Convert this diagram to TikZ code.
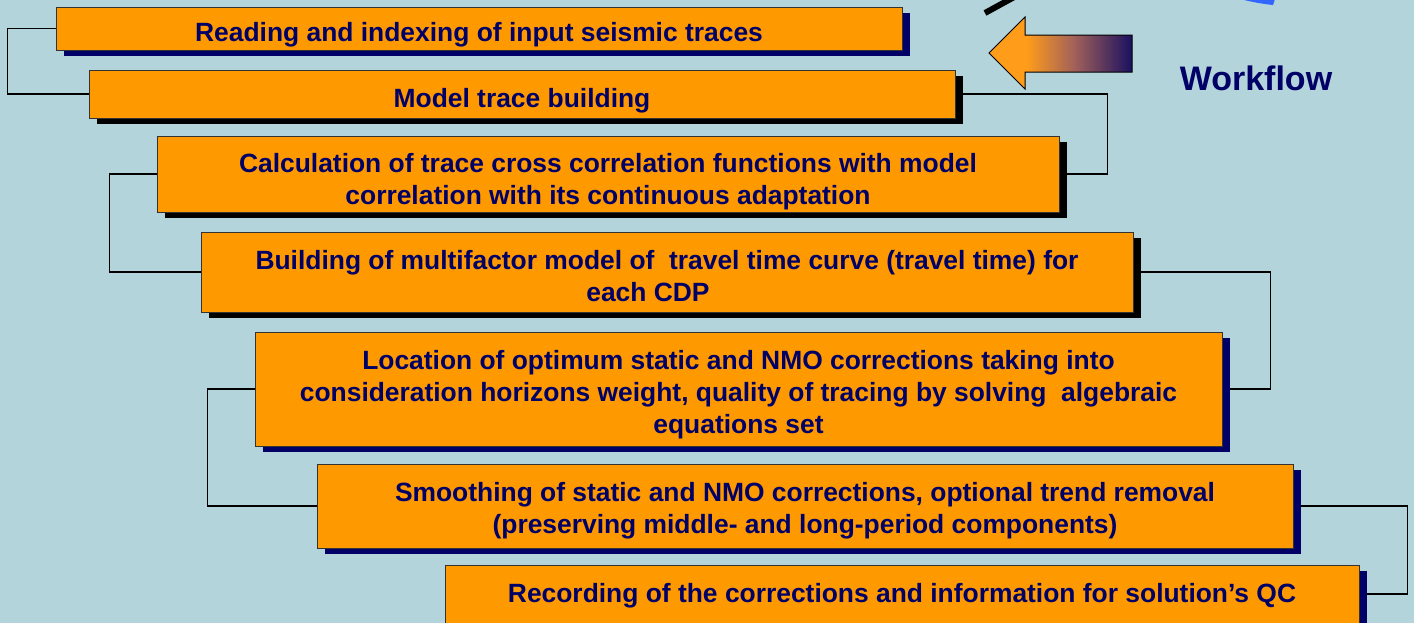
\documentclass[tikz,border=0pt]{standalone}
\usepackage{fontspec}
\setmainfont{Liberation Sans}
\usetikzlibrary{shadows,backgrounds}
\definecolor{bgcol}{RGB}{178,212,218}
\definecolor{boxor}{RGB}{255,153,0}
\definecolor{txtnavy}{RGB}{0,0,102}
\definecolor{shnavy}{RGB}{0,0,102}
\definecolor{arrOr}{RGB}{255,157,26}
\definecolor{arrMid}{RGB}{160,96,90}
\definecolor{arrNavy}{RGB}{26,16,96}
\definecolor{blobblue}{RGB}{51,102,255}
\pgfdeclarehorizontalshading{arrowshade}{100bp}{color(0bp)=(arrOr); color(38bp)=(arrOr); color(55bp)=(arrMid); color(75bp)=(arrNavy); color(100bp)=(arrNavy)}
\tikzset{
  stepbox/.style={rectangle, draw=black!80, line width=0.9pt, fill=boxor, inner sep=0pt},
  steptext/.style={inner sep=0pt, align=center, text=txtnavy, font=\fontsize{26.4}{32}\selectfont\bfseries},
  navysh/.style={drop shadow={shadow xshift=8pt, shadow yshift=-6pt, fill=shnavy, opacity=1}},
  blacksh/.style={drop shadow={shadow xshift=8pt, shadow yshift=-6pt, fill=black, opacity=1}},
  conn/.style={draw=black, line width=1.6pt}
}
\begin{document}
\begin{tikzpicture}[x=1pt,y=-1pt]
\useasboundingbox (0,0) rectangle (1414,622);
% top-right decorations
\draw[line width=6pt] (985,13) -- (1016,-4);
\fill[blobblue] (1240,-1) .. controls (1252,2) and (1263,4) .. (1273,5) -- (1275,-1) -- cycle;
\shade[shading=arrowshade, draw=black, line width=1pt]
  (989,53) -- (1025,17) -- (1025,35) -- (1132,35) -- (1132,72) -- (1025,72) -- (1025,89) -- cycle;
\node[text=txtnavy, font=\fontsize{34}{40}\selectfont\bfseries] (wf) at (1256,78) {Workflow};
% boxes
\node[stepbox, navysh, minimum width=846pt, minimum height=43pt] (b1) at (479,28.5) {};
\node[stepbox, blacksh, minimum width=866pt, minimum height=48pt] (b2) at (522,94) {};
\node[stepbox, blacksh, minimum width=902pt, minimum height=76pt] (b3) at (608,174) {};
\node[stepbox, blacksh, minimum width=932pt, minimum height=80pt] (b4) at (667,272) {};
\node[stepbox, navysh, minimum width=967pt, minimum height=114pt] (b5) at (738.5,389) {};
\node[stepbox, navysh, minimum width=976pt, minimum height=84pt] (b6) at (805,506) {};
\node[stepbox, navysh, minimum width=914pt, minimum height=58pt] (b7) at (902,594) {};
% texts
\node[steptext, yshift=-6.5pt] (t1) at (b1.center)
  {Reading and indexing of input seismic traces};
\node[steptext, yshift=-6.5pt] (t2) at (b2.center)
  {Model trace building};
\node[steptext, yshift=-7.5pt] (t3) at (b3.center)
  {Calculation of trace cross correlation functions with model\\correlation with its continuous adaptation};
\node[steptext, yshift=-4pt] (t4) at (b4.center)
  {Building of multifactor model of~ travel time curve (travel time) for\\each CDP\hspace*{38pt}};
\node[steptext, yshift=-5.5pt] (t5) at (b5.center)
  {Location of optimum static and NMO corrections taking into\\consideration horizons weight, quality of tracing by solving~ algebraic\\equations set};
\node[steptext, yshift=-5pt] (t6) at (b6.center)
  {Smoothing of static and NMO corrections, optional trend removal\\(preserving middle- and long-period components)};
\node[steptext, yshift=-2pt] (t7) at (b7.center)
  {Recording of the corrections and information for solution’s QC};
\begin{pgfonlayer}{background}
\fill[bgcol] (-20,-20) rectangle (1434,642);
\draw[conn] (b1.west) -- ++(-48,0) |- (b2.west);
\draw[conn] (b2.east) -- ++(152,0) |- (b3.east);
\draw[conn] (b3.west) -- ++(-47,0) |- (b4.west);
\draw[conn] (b4.east) -- ++(137,0) |- (b5.east);
\draw[conn] (b5.west) -- ++(-47,0) |- (b6.west);
\draw[conn] (b6.east) -- ++(114,0) |- (b7.east);
\end{pgfonlayer}
\end{tikzpicture}
\end{document}
